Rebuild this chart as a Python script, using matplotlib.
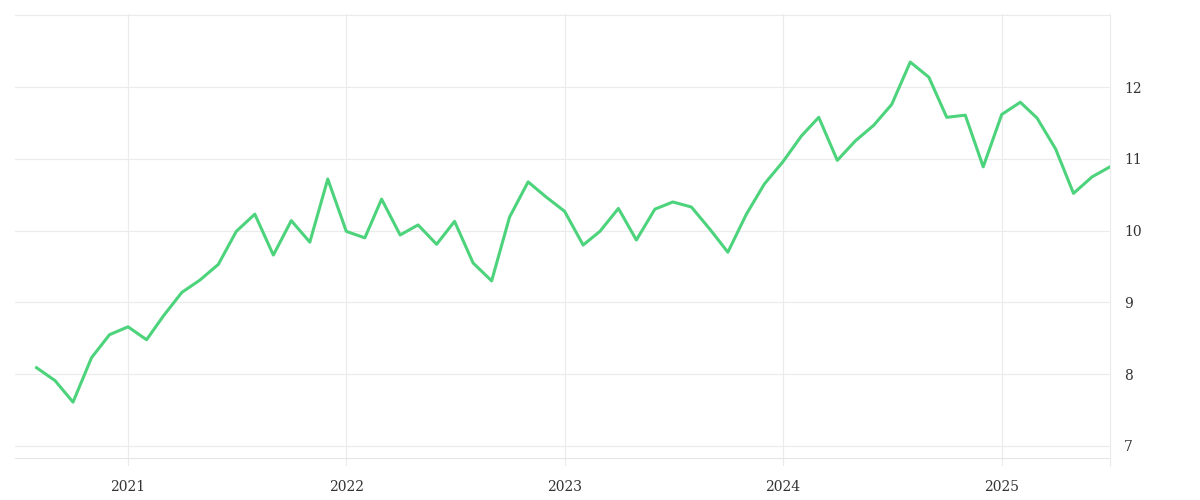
import matplotlib.pyplot as plt
import matplotlib.dates as mdates
import pandas as pd

months = pd.date_range("2020-08-01", "2025-07-01", freq="MS")
values = [8.09, 7.91, 7.61, 8.23, 8.55,
          8.66, 8.48, 8.81, 9.14, 9.31, 9.53, 9.99, 10.23, 9.66, 10.14, 9.84, 10.72,
          9.99, 9.90, 10.44, 9.94, 10.08, 9.81, 10.13, 9.55, 9.30, 10.19, 10.68, 10.47,
          10.27, 9.80, 9.99, 10.31, 9.87, 10.30, 10.40, 10.33, 10.02, 9.70, 10.23, 10.65,
          10.96, 11.32, 11.58, 10.98, 11.25, 11.47, 11.76, 12.35, 12.14, 11.58, 11.61, 10.89,
          11.62, 11.79, 11.57, 11.14, 10.52, 10.75, 10.89]
yticks = [7, 8, 9, 10, 11, 12]

fig = plt.figure(figsize=(12, 5), dpi=100)
ax = fig.add_axes([0.0125, 0.068, 0.9125, 0.904])
ax.plot(months, values, color="#4cd37b", lw=2.2)

ax.set_xlim(pd.Timestamp("2020-06-26"), months[-1])
ax.set_ylim(6.72, 13.02)
ax.set_yticks(yticks + [13])
ax.set_yticklabels([str(t) for t in yticks] + [""])
ax.yaxis.tick_right()
ax.xaxis.set_major_locator(mdates.YearLocator())
ax.xaxis.set_major_formatter(mdates.DateFormatter("%Y"))
ax.grid(True, color="#ebebeb", lw=0.8)
ax.axhline(6.83, color="#e6e6e6", lw=0.8)
ax.tick_params(length=0, labelsize=10, colors="#333333", pad=10)
for lab in ax.get_xticklabels() + ax.get_yticklabels():
    lab.set_family("DejaVu Serif")
for s in ax.spines.values():
    s.set_visible(False)
ax.spines["right"].set_visible(True)
ax.spines["right"].set_color("#ebebeb")

fig.savefig("out.png")
